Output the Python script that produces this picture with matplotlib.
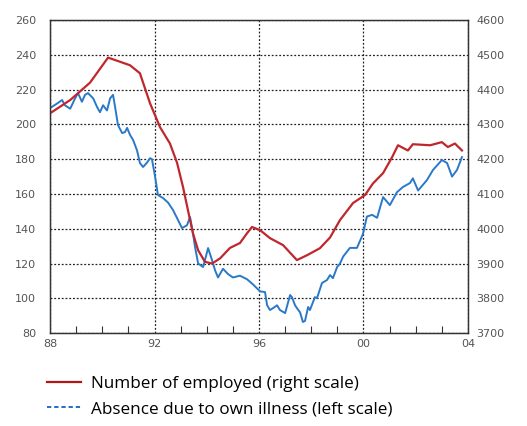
import matplotlib
matplotlib.use("Agg")
import matplotlib.pyplot as plt
from matplotlib.lines import Line2D

# Number of employed, thousands (right scale)
emp_years = [1988.00, 1988.77, 1989.53, 1990.22, 1990.68, 1991.06, 1991.44, 1991.83,
             1992.21, 1992.59, 1992.86, 1993.09, 1993.28, 1993.47, 1993.67, 1993.93,
             1994.20, 1994.51, 1994.89, 1995.27, 1995.54, 1995.73, 1996.04, 1996.42,
             1996.92, 1997.45, 1997.84, 1998.33, 1998.72, 1999.10, 1999.60, 2000.06,
             2000.36, 2000.75, 2001.09, 2001.32, 2001.70, 2001.89, 2002.55, 2003.00,
             2003.23, 2003.50, 2003.77]
employed = [4332, 4370, 4420, 4492, 4480, 4470, 4447, 4360,
            4292, 4245, 4190, 4120, 4053, 3987, 3938, 3905,
            3900, 3915, 3945, 3959, 3987, 4005, 3996, 3973,
            3953, 3910, 3924, 3944, 3975, 4025, 4074, 4097,
            4130, 4160, 4205, 4240, 4225, 4243, 4240, 4249,
            4235, 4245, 4225]

# Absence due to own illness (left scale)
abs_years = [1988.00, 1988.27, 1988.46, 1988.57, 1988.77, 1988.96, 1989.07, 1989.22,
             1989.34, 1989.45, 1989.65, 1989.80, 1989.91, 1990.03, 1990.18, 1990.30,
             1990.41, 1990.49, 1990.60, 1990.76, 1990.87, 1990.95, 1991.06, 1991.18,
             1991.33, 1991.44, 1991.56, 1991.71, 1991.83, 1991.90, 1992.02, 1992.13,
             1992.33, 1992.52, 1992.71, 1992.90, 1993.05, 1993.24, 1993.36, 1993.47,
             1993.55, 1993.67, 1993.86, 1994.05, 1994.20, 1994.32, 1994.43, 1994.62,
             1994.81, 1995.00, 1995.27, 1995.54, 1995.77, 1996.04, 1996.23, 1996.31,
             1996.42, 1996.54, 1996.69, 1996.80, 1997.00, 1997.19, 1997.26, 1997.38,
             1997.45, 1997.57, 1997.68, 1997.76, 1997.88, 1997.95, 1998.14, 1998.22,
             1998.41, 1998.60, 1998.72, 1998.83, 1998.99, 1999.10, 1999.22, 1999.48,
             1999.75, 1999.98, 2000.13, 2000.33, 2000.52, 2000.75, 2001.01, 2001.28,
             2001.51, 2001.78, 2001.89, 2002.09, 2002.43, 2002.66, 2003.00, 2003.20,
             2003.39, 2003.58, 2003.77]
absence = [209.4, 212, 214, 211, 209, 215, 218, 213,
           217, 218, 215, 210, 207, 211, 208, 215,
           217, 210, 199.6, 195, 195.6, 198, 194, 191,
           185, 177.8, 175.5, 178, 180.6, 180, 170, 159.4,
           157.6, 155, 150.7, 145, 140.4, 142, 146.7, 137.5,
           129.5, 120, 118, 128.9, 122, 116, 112, 117,
           114, 112, 113, 111, 108, 104, 103.6, 96,
           93.3, 94.4, 96, 93.3, 91.5, 101.9, 100.7, 96,
           94.4, 92, 86.4, 87, 95, 93.3, 100.7, 100.1,
           108.8, 110.5, 113.4, 111.6, 118, 120, 124, 129,
           129, 137, 147, 148, 146.3, 158.2, 153.6, 161,
           164, 166.3, 169, 162, 168, 173.8, 179.5, 177.8,
           170, 173.8, 181.2]

year_ticks = [1988, 1992, 1996, 2000, 2004]
year_labels = ["88", "92", "96", "00", "04"]
left_ticks = [80, 100, 120, 140, 160, 180, 200, 220, 240, 260]
right_ticks = [3700, 3800, 3900, 4000, 4100, 4200, 4300, 4400, 4500, 4600]

red = "#c0272d"
blue = "#2a79c9"
label_col = "#555555"

fig = plt.figure(figsize=(5.27, 4.26), dpi=100)
ax = fig.add_axes([0.095, 0.218, 0.793, 0.735])
ax2 = ax.twinx()

ax.plot(abs_years, absence, color=blue, lw=1.4)
ax2.plot(emp_years, employed, color=red, lw=1.6)

ax.set_xlim(1988, 2004)
ax.set_ylim(80, 260)
ax2.set_ylim(3700, 4600)

ax.set_yticks(left_ticks)
ax2.set_yticks(right_ticks)
ax.set_xticks(year_ticks)
ax.set_xticklabels(year_labels)
ax.set_xticks(range(1988, 2005), minor=True)

ax.grid(True, which="major", color="#222222", linestyle=(0, (1.5, 1.5)), lw=0.9)
ax.set_axisbelow(True)

ax.tick_params(axis="x", which="minor", direction="in", length=5, color="#333333", width=0.8)
ax.tick_params(axis="x", which="major", direction="in", length=0, labelsize=8,
               labelcolor=label_col, pad=4)
ax.tick_params(axis="y", length=0, labelsize=8, labelcolor=label_col, pad=10)
ax2.tick_params(axis="y", length=0, labelsize=8, labelcolor=label_col, pad=6)

for a in (ax, ax2):
    for s in a.spines.values():
        s.set_color("#333333")
        s.set_linewidth(0.9)

handles = [Line2D([], [], color="#b01818", lw=1.6),
           Line2D([], [], color="#1f6fc5", lw=1.4, linestyle=(0, (2.2, 1.5)))]
labels = ["Number of employed (right scale)", "Absence due to own illness (left scale)"]
fig.legend(handles, labels, loc="upper left", bbox_to_anchor=(0.089, 0.118),
           frameon=False, handlelength=2.0, handletextpad=0.6,
           labelspacing=0.55, borderaxespad=0, borderpad=0,
           prop={"family": "Open Sans", "size": 12.3})

fig.savefig("out.png", dpi=100)
